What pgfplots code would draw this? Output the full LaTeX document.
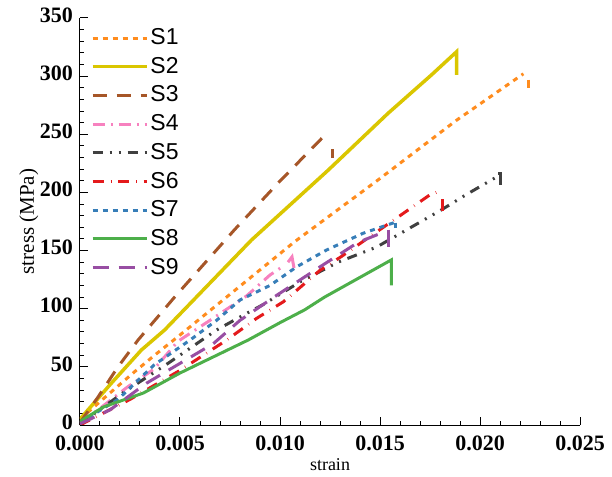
\documentclass[border=0pt]{standalone}
\usepackage{fontspec}
\setmainfont{Liberation Serif}
\newfontfamily\arialf{Liberation Sans}
\usepackage{pgfplots}
\pgfplotsset{compat=1.18}
\definecolor{cS1}{RGB}{255,140,30}
\definecolor{cS2}{RGB}{218,198,0}
\definecolor{cS3}{RGB}{166,86,40}
\definecolor{cS4}{RGB}{247,129,191}
\definecolor{cS5}{RGB}{64,64,64}
\definecolor{cS6}{RGB}{228,26,28}
\definecolor{cS7}{RGB}{55,126,184}
\definecolor{cS8}{RGB}{77,175,74}
\definecolor{cS9}{RGB}{152,78,163}
\begin{document}
\begin{tikzpicture}
\begin{axis}[name=ax, at={(0,0)}, anchor=south west,
  scale only axis, width=500bp, height=407bp,
  xmin=0, xmax=0.025, ymin=0, ymax=350,
  axis lines=left, axis line style={-, line width=1bp, black},
  xtick={0,0.005,0.01,0.015,0.02,0.025},
  ytick={0,50,100,150,200,250,300,350},
  minor x tick num=4, minor y tick num=4,
  tick align=inside, major tick length=8bp, minor tick length=4bp,
  tick style={line width=1bp, black},
  scaled x ticks=false,
  tick label style={font=\fontsize{22bp}{26bp}\selectfont\bfseries, inner sep=1bp},
  xticklabel style={yshift=-10bp, /pgf/number format/.cd, fixed, fixed zerofill, precision=3, assume math mode=true},
  yticklabel style={xshift=-6bp, yshift=3bp, /pgf/number format/assume math mode=true},
  xlabel={strain}, ylabel={stress (MPa)},
  xlabel style={font=\fontsize{18bp}{22bp}\selectfont},
  ylabel style={font=\fontsize{21bp}{25bp}\selectfont},
  xlabel shift=3bp, ylabel shift=-3bp,
  legend cell align=left,
  legend style={draw=none, fill=none, at={(0,1)}, anchor=north west,
    xshift=11bp, yshift=-8bp, inner sep=0pt, outer sep=0pt, row sep=4.7bp,
    font=\arialf\fontsize{23bp}{27bp}\selectfont,
    nodes={inner sep=2bp, text height=16.5bp, text depth=3.5bp}},
  legend image code/.code={\draw[#1] (0bp,0bp) -- (54bp,0bp);},
  every axis plot/.append style={line width=3bp},
]
\addplot[cS1, dash pattern=on 5bp off 5bp] coordinates {
(0,5) (0.00157,28.6) (0.00273,45.8) (0.00373,60) (0.0049,76) (0.01073,157.6) (0.0149,210.7) (0.01882,262) (0.02217,302)};
\addlegendentry{S1}
\addplot[cS2, line width=3.5bp] coordinates {
(0,5) (0.0004,13) (0.00157,36) (0.00307,64.5) (0.00423,81.7) (0.00857,159) (0.0124,219) (0.0154,268) (0.01757,301) (0.01883,321) (0.01883,301)};
\addlegendentry{S2}
\addplot[cS3, dash pattern=on 14bp off 10bp] coordinates {
(0,2) (0.0009,24) (0.0019,50) (0.0029,73) (0.00473,110) (0.00773,168) (0.0099,208) (0.0124,252)};
\addlegendentry{S3}
\addplot[cS4, dash pattern=on 12bp off 6bp on 2bp off 6bp] coordinates {
(0,2) (0.0009,13) (0.0024,33) (0.0037,48) (0.0049,72) (0.0065,90) (0.00833,111) (0.0095,129) (0.0102,137)};
\addlegendentry{S4}
\addplot[cS5, dash pattern=on 10bp off 7bp on 2bp off 7bp on 2bp off 7bp] coordinates {
(0,1) (0.00223,28.6) (0.0044,53) (0.00683,81.7) (0.00833,96) (0.0091,103) (0.011,123) (0.0129,140) (0.01483,153) (0.01807,185) (0.0193,198) (0.0201,206) (0.0208,213)};
\addlegendentry{S5}
\addplot[cS6, dash pattern=on 11bp off 7bp on 0.5bp off 7bp] coordinates {
(0,0) (0.0025,22) (0.005,47) (0.00733,73) (0.00883,91.7) (0.01017,106) (0.012,133) (0.01308,145) (0.01533,172) (0.0165,186) (0.0175,198) (0.01805,201.5)};
\addlegendentry{S6}
\addplot[cS7, dash pattern=on 5bp off 5bp] coordinates {
(0,2) (0.0019,22) (0.0037,51.6) (0.0055,73) (0.00683,90) (0.008,107.5) (0.0095,120) (0.01083,136) (0.01233,150.5) (0.01417,165) (0.0157,174)};
\addlegendentry{S7}
\addplot[cS8] coordinates {
(0,3) (0.00117,15.5) (0.00317,27.5) (0.005,44.7) (0.0084,73) (0.010,88) (0.01123,99) (0.01223,110) (0.01557,142) (0.01557,120)};
\addlegendentry{S8}
\addplot[cS9, dash pattern=on 16bp off 10bp] coordinates {
(0,1) (0.0015,13) (0.00333,36) (0.005,53) (0.00667,70) (0.008,90) (0.0097,110) (0.012,136) (0.0139,157) (0.0152,166)};
\addlegendentry{S9}
% failure drops at the end of each curve
\addplot[cS1, forget plot] coordinates {(0.0224,297) (0.0224,290)};
\addplot[cS3, forget plot] coordinates {(0.0126,237) (0.0126,230)};
\addplot[cS4, forget plot] coordinates {(0.0104,140) (0.0106,144.6) (0.0107,135)};
\addplot[cS5, forget plot] coordinates {(0.0209,216) (0.0210,216) (0.0210,206)};
\addplot[cS6, forget plot] coordinates {(0.0181,194) (0.0181,184)};
\addplot[cS7, forget plot] coordinates {(0.01575,174) (0.01575,169)};
\addplot[cS9, forget plot] coordinates {(0.0154,168) (0.0154,153)};
\end{axis}
\pgfresetboundingbox
\path ([shift={(-80bp,-52bp)}]ax.south west) rectangle ([shift={(32bp,18bp)}]ax.north east);
\end{tikzpicture}
\end{document}
